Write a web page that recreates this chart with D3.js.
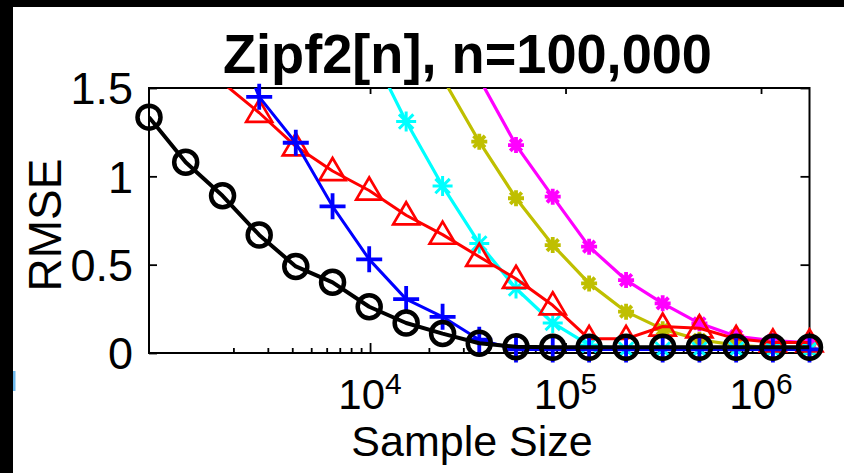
<!DOCTYPE html>
<html>
<head>
<meta charset="utf-8">
<script src="https://cdn.jsdelivr.net/npm/d3@7"></script>
<style>
  html, body { margin: 0; padding: 0; background: #000; }
  svg { display: block; }
  text { font-family: "Liberation Sans", Arial, Helvetica, sans-serif; fill: #000; }
</style>
</head>
<body>
<svg id="chart" width="844" height="473"></svg>
<script>
// ---- data ----
const sampleSizes = [740, 1140, 1760, 2710, 4170, 6430, 9900, 15300, 23500, 36200,
                     55800, 86000, 132000, 204000, 314000, 484000, 746000, 1150000, 1770000];
const magentaSeries = [null, null, null, null, null, null, null, null, null, 1.554,
                       1.177, 0.885, 0.602, 0.413, 0.281, 0.168, 0.095, 0.07, 0.057];
const yellowSeries  = [null, null, null, null, null, null, null, null, 1.556, 1.196,
                       0.876, 0.611, 0.394, 0.234, 0.135, 0.075, 0.045, 0.03, 0.02];
const cyanSeries    = [null, null, null, null, null, null, 1.73, 1.31, 0.945, 0.62,
                       0.365, 0.17, 0.045, 0.02, 0.02, 0.02, 0.02, 0.02, 0.02];
const redSeries     = [null, null, 1.53, 1.36, 1.17, 1.03, 0.92, 0.78, 0.67, 0.545,
                       0.42, 0.27, 0.08, 0.08, 0.15, 0.14, 0.08, 0.06, 0.06];
const blueSeries    = [null, null, 1.95, 1.45, 1.19, 0.83, 0.53, 0.305, 0.205, 0.075,
                       0.02, 0.02, 0.02, 0.02, 0.02, 0.02, 0.02, 0.02, 0.02];
const blackSeries   = [1.335, 1.08, 0.89, 0.668, 0.49, 0.40, 0.262, 0.17, 0.11, 0.055,
                       0.035, 0.032, 0.032, 0.032, 0.032, 0.032, 0.032, 0.032, 0.032];
const yTickValues = [0, 0.5, 1, 1.5];
const yTickLabels = ["0", "0.5", "1", "1.5"];
const xMajorTicks = [1e4, 1e5, 1e6];
const xMajorExponents = ["4", "5", "6"];
const titleText = "Zipf2[n], n=100,000";
const xLabelText = "Sample Size";
const yLabelText = "RMSE";

// ---- layout ----
const W = 844, H = 473;
const L = 149, R = 809.5, T = 88, B = 353;

const svg = d3.select("#chart");
svg.append("rect").attr("x", 13).attr("y", 7).attr("width", W - 13).attr("height", H - 7).attr("fill", "#fff");
// small scanning artifact at left edge
svg.append("rect").attr("x", 13).attr("y", 371).attr("width", 2.5).attr("height", 20).attr("fill", "#4aa8e8").attr("opacity", 0.8);

const x = d3.scaleLog().domain([sampleSizes[0], sampleSizes[sampleSizes.length - 1]]).range([L, R]);
const y = d3.scaleLinear().domain([0, 1.5]).range([B, T]);

svg.append("defs").append("clipPath").attr("id", "plotclip")
  .append("rect").attr("x", L).attr("y", T).attr("width", R - L).attr("height", B - T);

const minorTicks = [];
[1e3, 1e4, 1e5].forEach(dec => { for (let k = 2; k <= 9; k++) { const v = k * dec; if (v >= 2000 && v <= x.domain()[1]) minorTicks.push(v); } });

const axes = svg.append("g");
const gBottom = axes.append("g").attr("transform", `translate(0,${B})`)
  .call(d3.axisBottom(x).tickValues(xMajorTicks).tickSize(-10).tickFormat(""));
const gBottomMinor = axes.append("g").attr("transform", `translate(0,${B})`)
  .call(d3.axisBottom(x).tickValues(minorTicks).tickSize(-5).tickFormat(""));
const gTop = axes.append("g").attr("transform", `translate(0,${T})`)
  .call(d3.axisTop(x).tickValues(xMajorTicks).tickSize(-6).tickFormat(""));
const gLeft = axes.append("g").attr("transform", `translate(${L},0)`)
  .call(d3.axisLeft(y).tickValues(yTickValues).tickSize(-8).tickFormat(""));
const gRight = axes.append("g").attr("transform", `translate(${R},0)`)
  .call(d3.axisRight(y).tickValues(yTickValues).tickSize(-9).tickFormat(""));
[gBottom, gBottomMinor, gTop, gLeft, gRight].forEach(g => {
  g.select(".domain").remove();
  g.selectAll("line").attr("stroke", "#000").attr("stroke-width", 1.8);
});

axes.append("rect").attr("x", L).attr("y", T).attr("width", R - L).attr("height", B - T)
  .attr("fill", "none").attr("stroke", "#000").attr("stroke-width", 2);

svg.append("g").selectAll("text").data(yTickValues).join("text")
  .attr("x", 133).attr("y", d => y(d)).attr("dy", "0.36em")
  .attr("text-anchor", "end").attr("font-size", 45)
  .text((d, i) => yTickLabels[i]);

const xl = svg.append("g").selectAll("text").data(xMajorTicks).join("text")
  .attr("x", d => x(d)).attr("y", 409).attr("text-anchor", "middle").attr("font-size", 42);
xl.append("tspan").text("10");
xl.append("tspan").attr("font-size", 30).attr("dy", -15).text((d, i) => xMajorExponents[i]);

svg.append("text").attr("x", 472).attr("y", 456).attr("text-anchor", "middle")
  .attr("font-size", 43).text(xLabelText);
svg.append("text").attr("transform", "translate(61,225) rotate(-90)").attr("text-anchor", "middle")
  .attr("font-size", 46).text(yLabelText);
svg.append("text").attr("x", 223).attr("y", 73).attr("font-size", 55).attr("font-weight", "bold")
  .attr("textLength", 489).attr("lengthAdjust", "spacingAndGlyphs").text(titleText);

// ---- series ----
const series = [
  { values: magentaSeries, color: "#ff00ff", lw: 3.2, marker: "star",  size: 8,  mw: 3.8 },
  { values: yellowSeries,  color: "#bfbf00", lw: 3.2, marker: "star",  size: 8,  mw: 3.8 },
  { values: cyanSeries,    color: "#00ffff", lw: 3.2, marker: "star",  size: 10, mw: 3 },
  { values: redSeries,     color: "#ff0000", lw: 3,   marker: "tri",   size: 13, mw: 2.7 },
  { values: blueSeries,    color: "#0000ff", lw: 3,   marker: "plus",  size: 13, mw: 3.8 },
  { values: blackSeries,   color: "#000000", lw: 4,   marker: "circle",size: 11.5, mw: 4.5 }
];

function markerPath(type, s) {
  if (type === "plus") return `M${-s},0H${s}M0,${-s}V${s}`;
  if (type === "star") { const d = s * 0.72; return `M${-s},0H${s}M0,${-s}V${s}M${-d},${-d}L${d},${d}M${-d},${d}L${d},${-d}`; }
  if (type === "tri") return `M0,${-s}L${s},${s * 0.7}L${-s},${s * 0.7}Z`;
  return null;
}

const line = d3.line().defined(d => d.v != null).x(d => x(d.x)).y(d => y(d.v));
series.forEach(sr => {
  const pts = sampleSizes.map((xv, i) => ({ x: xv, v: sr.values[i] }));
  const g = svg.append("g");
  g.append("path").datum(pts).attr("d", line).attr("clip-path", "url(#plotclip)")
    .attr("fill", "none").attr("stroke", sr.color).attr("stroke-width", sr.lw).attr("stroke-linejoin", "round");
  const vis = pts.filter(d => d.v != null && d.v <= 1.5);
  if (sr.marker === "circle") {
    g.selectAll("circle").data(vis).join("circle")
      .attr("cx", d => x(d.x)).attr("cy", d => y(d.v)).attr("r", sr.size)
      .attr("fill", "none").attr("stroke", sr.color).attr("stroke-width", sr.mw);
  } else {
    g.selectAll(".mk").data(vis).join("path").attr("class", "mk")
      .attr("transform", d => `translate(${x(d.x)},${y(d.v)})`)
      .attr("d", markerPath(sr.marker, sr.size))
      .attr("fill", "none").attr("stroke", sr.color).attr("stroke-width", sr.mw)
      .attr("stroke-linejoin", "miter");
  }
});
</script>
</body>
</html>
